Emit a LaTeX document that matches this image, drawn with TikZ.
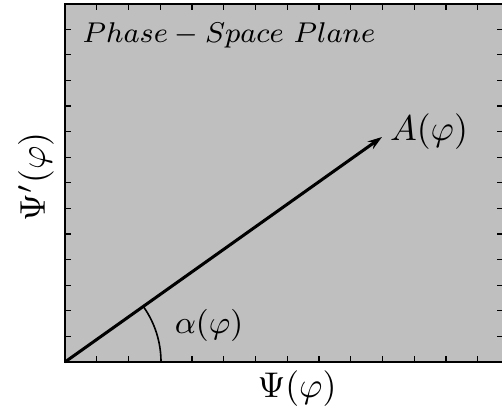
\documentclass[tikz,border=0pt]{standalone}
\usetikzlibrary{arrows.meta}
\begin{document}
\begin{tikzpicture}[x=0.28pt, y=0.28pt, font=\normalsize,
			tick/.style={black, line width=0.35pt},
			lbl/.style={inner sep=0pt, font=\normalsize},
			sml/.style={inner sep=0pt, font=\small}]
			\useasboundingbox (0,0) rectangle (502,417);
			\fill[black!25] (65,55) rectangle (503,413);
			\draw[line width=0.5pt] (65,55) rectangle (503,413);
			\coordinate (O) at (65,55);
			\coordinate (T) at (382,280);
			% ticks along the frame
			\foreach \k in {1,...,13}{
				\draw[tick] ({65+31.75*\k},55) -- ++(0,6);
				\draw[tick] ({65+31.75*\k},413) -- ++(0,-6);
				\draw[tick] (65,{55+25.6*\k}) -- ++(6,0);
				\draw[tick] (503,{55+25.6*\k}) -- ++(-6,0);
			}
			% phase vector and its angle
			\draw[line width=0.85pt, -{Stealth[length=4pt, width=2.6pt]}] (O) -- (T);
			\draw[line width=0.45pt] (O) ++(96,0) arc[start angle=0, end angle=35.4, radius=96];
			\node[lbl] (amp) at (429,285) {$A(\varphi)$};
			\node[sml] (ang) at (209,92) {$\alpha(\varphi)$};
			\node[sml, font=\footnotesize, anchor=west] (ttl) at (82,382) {$Phase-Space\ Plane$};
			\node[lbl] (xlab) at (297,28) {$\Psi(\varphi)$};
			\node[lbl, rotate=90] (ylab) at (36,240) {$\Psi'(\varphi)$};
		\end{tikzpicture}
\end{document}
